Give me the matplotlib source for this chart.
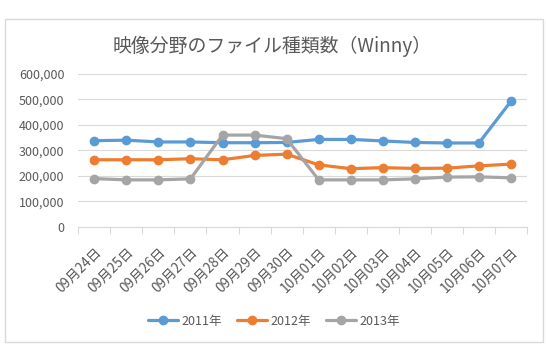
import matplotlib.pyplot as plt
from matplotlib.patches import Rectangle
from matplotlib.ticker import FuncFormatter, FixedLocator

plt.rcParams['font.family'] = ['Noto Sans CJK JP', 'DejaVu Sans']

dates = ['09月24日', '09月25日', '09月26日', '09月27日', '09月28日', '09月29日', '09月30日',
         '10月01日', '10月02日', '10月03日', '10月04日', '10月05日', '10月06日', '10月07日']
y2011 = [338000, 340000, 333000, 333000, 330000, 330000, 331000,
         343000, 343000, 337000, 331000, 329000, 329000, 493000]
y2012 = [263000, 263000, 263000, 267000, 263000, 280000, 285000,
         243000, 228000, 232000, 229000, 230000, 239000, 246000]
y2013 = [189000, 184000, 184000, 188000, 360000, 360000, 346000,
         184000, 184000, 184000, 188000, 195000, 196000, 192000]
series = [('2011年', y2011, '#5B9BD5'),
          ('2012年', y2012, '#ED7D31'),
          ('2013年', y2013, '#A5A5A5')]

text_col = '#595959'
grid_col = '#D9D9D9'

fig = plt.figure(figsize=(5.46, 3.56), dpi=100)
ax = fig.add_axes([0.1434, 0.3632, 0.8218, 0.4289])

x = list(range(len(dates)))
for name, vals, col in series:
    ax.plot(x, vals, color=col, lw=2.3, marker='o', ms=6, label=name,
            solid_capstyle='round')

ax.set_xlim(-0.5, len(dates) - 0.5)
ax.set_ylim(0, 600000)
ax.set_yticks(range(0, 600001, 100000))
ax.yaxis.set_major_formatter(FuncFormatter(lambda v, p: f'{int(v):,}'))
ax.grid(axis='y', color=grid_col, lw=0.8)
ax.set_axisbelow(True)

ax.set_xticks(x)
ax.set_xticklabels(dates, rotation=45, ha='right', rotation_mode='anchor')
ax.xaxis.set_minor_locator(FixedLocator([i - 0.5 for i in range(len(dates) + 1)]))
ax.tick_params(axis='x', which='major', length=0, pad=13, labelsize=9.8, labelcolor=text_col)
ax.tick_params(axis='x', which='minor', length=5, color=grid_col, width=0.8)
ax.tick_params(axis='y', length=0, pad=10, labelsize=9, labelcolor=text_col)

for s in ['top', 'right', 'left']:
    ax.spines[s].set_visible(False)
ax.spines['bottom'].set_color(grid_col)
ax.spines['bottom'].set_linewidth(0.8)

fig.text(272 / 546, 1 - 46 / 356, '映像分野のファイル種類数（Winny）', ha='center', va='center',
         fontsize=13.6, color=text_col)

fig.legend(loc='center', bbox_to_anchor=(274 / 546, 1 - 321 / 356), ncol=3, frameon=False,
           fontsize=9, labelcolor=text_col, handlelength=2.4, columnspacing=1.2,
           handletextpad=0.3)

fig.patches.append(Rectangle((5 / 546, 1 - 341.7 / 356), 538 / 546, 322.7 / 356,
                             transform=fig.transFigure, fill=False, ec=grid_col, lw=1))

fig.savefig('out.png', dpi=100)
